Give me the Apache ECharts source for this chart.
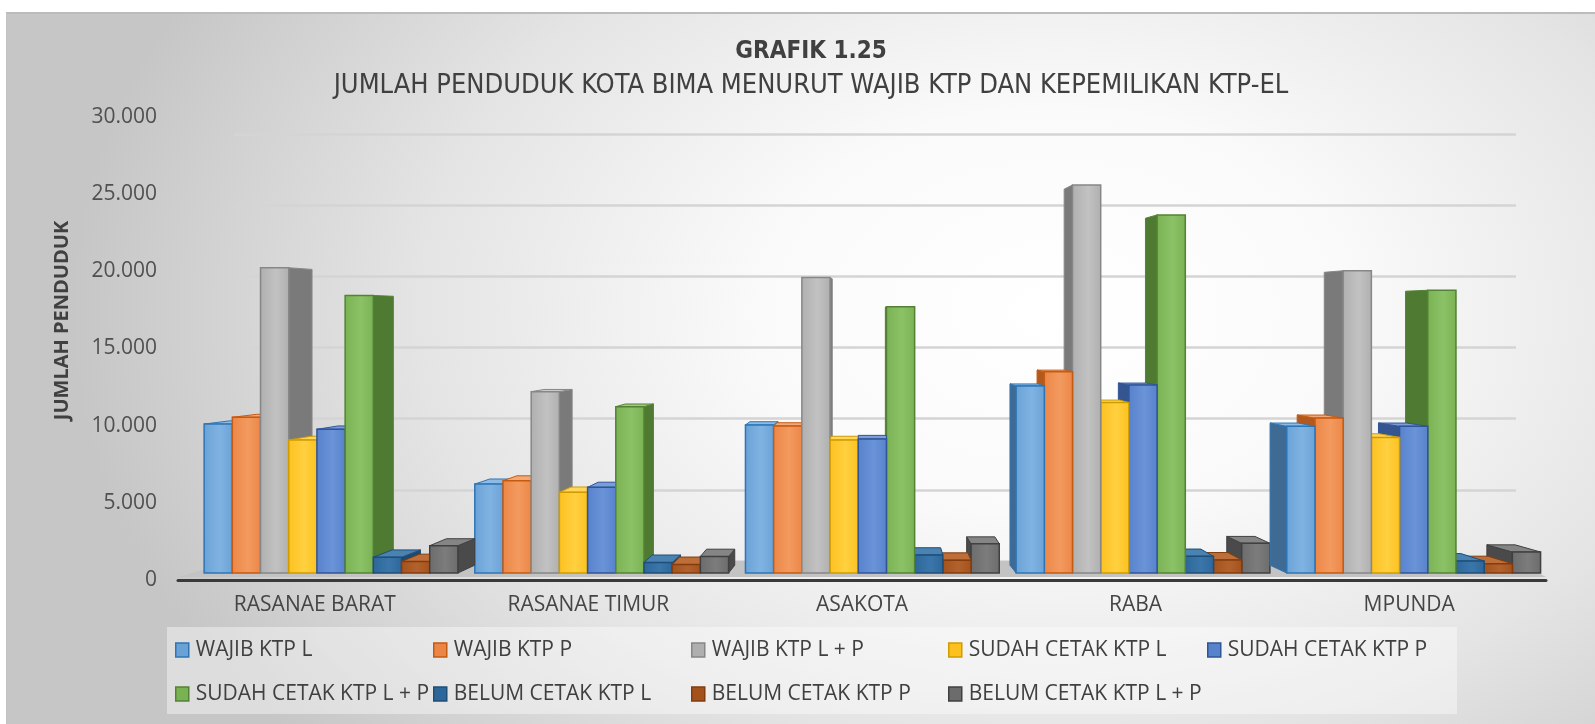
<!DOCTYPE html>
<html>
<head>
<meta charset="utf-8">
<title>Grafik 1.25</title>
<script src="https://cdn.jsdelivr.net/npm/echarts@6.0.0/dist/echarts.min.js"></script>
<style>
  html, body { margin: 0; padding: 0; background: #fff; }
  #frame {
    position: absolute; left: 6px; top: 12px; width: 1589px; height: 712px;
    box-sizing: border-box; border-top: 2px solid #bcbcbc; border-left: 1px solid #c4c4c4;
    background: radial-gradient(ellipse 62% 95% at 66% 42%, #ffffff 0%, #fafafa 30%, #e4e4e4 65%, #c6c6c6 100%);
  }
  #chart { position: absolute; left: 0; top: 0; width: 1595px; height: 724px; }
</style>
</head>
<body>
<div id="frame"></div>
<div id="chart"></div>
<script>
// kecamatan
var districts = ["RASANAE BARAT", "RASANAE TIMUR", "ASAKOTA", "RABA", "MPUNDA"];

// nilai tiap seri
var wajibL      = [9930, 5930, 9870, 12470, 9780];
var wajibP      = [10380, 6150, 9800, 13420, 10330];
var wajibLP     = [20350, 12090, 19700, 25870, 20150];
var sudahL      = [8870, 5380, 8870, 11360, 9040];
var sudahP      = [9580, 5710, 8930, 12530, 9780];
var sudahLP     = [18500, 11090, 17750, 23870, 18850];
var belumL      = [1050, 700, 1200, 1110, 800];
var belumP      = [760, 560, 850, 870, 620];
var belumLP     = [1820, 1100, 1950, 1980, 1400];

var yTicks = [0, 5000, 10000, 15000, 20000, 25000, 30000];

var seriesNames = [
  "WAJIB KTP L", "WAJIB KTP P", "WAJIB KTP L + P",
  "SUDAH CETAK KTP L", "SUDAH CETAK KTP P", "SUDAH CETAK KTP L + P",
  "BELUM CETAK KTP L", "BELUM CETAK KTP P", "BELUM CETAK KTP L + P"
];
var seriesValues = [wajibL, wajibP, wajibLP, sudahL, sudahP, sudahLP, belumL, belumP, belumLP];

// warna: depan, sorot, samping, atas, garis
var palette = [
  { front: "#6aa2d6", hi: "#80b3e2", side: "#3f6a93", top: "#8dbbe6", line: "#2e75b6" },
  { front: "#ec8646", hi: "#f39a60", side: "#b25a1e", top: "#f4a877", line: "#c55a11" },
  { front: "#afafaf", hi: "#c2c2c2", side: "#7a7a7a", top: "#c9c9c9", line: "#878787" },
  { front: "#fdc11f", hi: "#ffd040", side: "#c09000", top: "#ffd55c", line: "#cf9c00" },
  { front: "#5782cc", hi: "#6a93d8", side: "#34558f", top: "#7b9dda", line: "#2f5597" },
  { front: "#79b253", hi: "#8cc267", side: "#4e7a32", top: "#9ccb7b", line: "#548235" },
  { front: "#2d679a", hi: "#3b76aa", side: "#1e4a70", top: "#4a82b2", line: "#1f4e79" },
  { front: "#a3521e", hi: "#b2622c", side: "#7a3a0e", top: "#be6e38", line: "#843c0c" },
  { front: "#6c6c6c", hi: "#7c7c7c", side: "#4a4a4a", top: "#858585", line: "#404040" }
];

var BAR_W = 28.2;      // lebar batang
var DEPTH_K = 0.039;   // kedalaman sisi (perspektif)
var TILT_K = 0.031;    // kemiringan tutup atas
var EYE_VALUE = 16800; // tinggi mata kamera

function makeRender(idx) {
  var c = palette[idx];
  var grad = new echarts.graphic.LinearGradient(0, 0, 1, 0, [
    { offset: 0, color: c.front },
    { offset: 0.55, color: c.hi },
    { offset: 1, color: c.front }
  ]);
  return function (params, api) {
    var cat = api.value(0);
    var top = api.coord([cat, api.value(1)]);
    var base = api.coord([cat, 0]);
    var mid = api.coord([2, 0])[0];
    var eyeY = api.coord([cat, EYE_VALUE])[1];
    var x0 = top[0] + (idx - 4.5) * BAR_W;
    var x1 = x0 + BAR_W;
    var xc = (x0 + x1) / 2;
    var dx = (mid - xc) * DEPTH_K;
    var yT = top[1], yB = base[1];
    var dy = (eyeY - yT) * TILT_K;
    var dyB = (eyeY - yB) * TILT_K;
    var order = xc < mid ? idx : 8 - idx;
    var sx = dx >= 0 ? x1 : x0;
    var kids = [];
    kids.push({
      type: "polygon", z2: order * 3,
      shape: { points: [[sx, yT], [sx + dx, yT + dy], [sx + dx, yB + dyB], [sx, yB]] },
      style: { fill: c.side, stroke: c.line, lineWidth: 1 }
    });
    if (dy < 0) {
      kids.push({
        type: "polygon", z2: order * 3 + 1,
        shape: { points: [[x0, yT], [x1, yT], [x1 + dx, yT + dy], [x0 + dx, yT + dy]] },
        style: { fill: c.top, stroke: c.line, lineWidth: 1 }
      });
    }
    kids.push({
      type: "rect", z2: order * 3 + 2,
      shape: { x: x0, y: yT, width: BAR_W, height: yB - yT },
      style: { fill: grad, stroke: c.line, lineWidth: 1.5 }
    });
    return { type: "group", children: kids };
  };
}

var series = seriesNames.map(function (name, i) {
  return {
    name: name,
    type: "custom",
    xAxisIndex: 0,
    yAxisIndex: 0,
    renderItem: makeRender(i),
    itemStyle: { color: palette[i].front, borderColor: palette[i].line, borderWidth: 1.5 },
    encode: { x: 0, y: 1 },
    data: seriesValues[i].map(function (v, k) { return [k, v]; })
  };
});

// posisi legenda (kiri, atas)
var legendPos = [
  [175, 638], [433, 638], [691, 638], [948, 638], [1207, 638],
  [175, 682], [433, 682], [691, 682], [948, 682]
];
var legends = seriesNames.map(function (name, i) {
  return {
    left: legendPos[i][0], top: legendPos[i][1], padding: 0,
    icon: "rect", itemWidth: 13, itemHeight: 14,
    data: [{ name: name, itemStyle: { color: palette[i].front, borderColor: palette[i].line, borderWidth: 1.5 } }],
    textStyle: { fontFamily: "Open Sans", fontSize: 21, color: "#404040", lineHeight: 24, padding: [0, 0, 0, 2] }
  };
});

function fmt(v) {
  return String(v).replace(/\B(?=(\d{3})+(?!\d))/g, ".");
}

var titleFont = "Liberation Sans Narrow, DejaVu Sans Condensed, Liberation Sans";

var chart = echarts.init(document.getElementById("chart"));
chart.setOption({
  animation: false,
  backgroundColor: "transparent",
  title: [
    {
      text: "GRAFIK 1.25", left: 811, textAlign: "center", top: 38, padding: 0,
      textStyle: { fontFamily: titleFont, fontWeight: "bold", fontSize: 24, lineHeight: 28, color: "#404040" }
    },
    {
      text: "JUMLAH PENDUDUK KOTA BIMA MENURUT WAJIB KTP DAN KEPEMILIKAN KTP-EL", left: 811, textAlign: "center", top: 71, padding: 0,
      textStyle: { fontFamily: titleFont, fontWeight: "normal", fontSize: 27, lineHeight: 30, color: "#404040" }
    }
  ],
  legend: legends,
  graphic: [
    { type: "rect", z: 0, shape: { x: 167, y: 627, width: 1290, height: 87 }, style: { fill: "rgba(255,255,255,0.4)" } },
    { type: "polygon", z: 1, shape: { points: [[178, 577], [1546, 577], [1516, 561], [234, 561]] }, style: { fill: "#c3c3c3" } }
  ],
  grid: [
    { left: 195.7, right: 46, top: 123, bottom: 151 },
    { left: 178, right: 49, top: 117, bottom: 144 },
    { left: 234, right: 79, top: 134, bottom: 163 }
  ],
  xAxis: [
    { gridIndex: 0, type: "category", data: districts, show: false },
    {
      gridIndex: 1, type: "category", data: districts,
      axisLine: { lineStyle: { color: "#3a3a3a", width: 3 } },
      axisTick: { show: false },
      axisLabel: { margin: 15, fontFamily: "Open Sans", fontSize: 21, color: "#454545" }
    },
    { gridIndex: 2, type: "category", data: districts, show: false }
  ],
  yAxis: [
    { gridIndex: 0, type: "value", min: yTicks[0], max: yTicks[yTicks.length - 1], interval: 5000, show: false },
    {
      gridIndex: 1, type: "value", min: yTicks[0], max: yTicks[yTicks.length - 1], interval: 5000,
      axisLine: { show: false }, axisTick: { show: false }, splitLine: { show: false },
      axisLabel: { margin: 21, fontFamily: "Open Sans", fontSize: 21, color: "#505050", formatter: fmt },
      name: "JUMLAH PENDUDUK", nameLocation: "middle", nameGap: 106, nameRotate: 90,
      nameTextStyle: { fontFamily: "Open Sans", fontWeight: "bold", fontSize: 20, color: "#404040", padding: [0, 0, 0, 56] }
    },
    {
      gridIndex: 2, type: "value", min: yTicks[0], max: yTicks[yTicks.length - 1], interval: 5000,
      axisLine: { show: false }, axisTick: { show: false }, axisLabel: { show: false },
      splitLine: { lineStyle: { color: "#d4d4d4", width: 2.5 } }
    }
  ],
  series: series
});
</script>
</body>
</html>
